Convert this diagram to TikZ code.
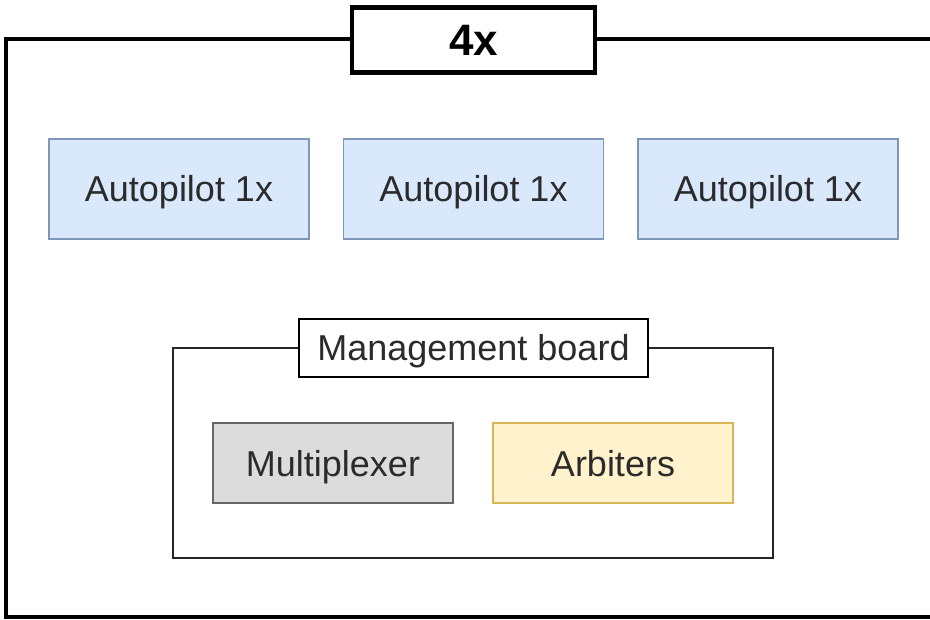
\documentclass[tikz,border=0pt]{standalone}
\usepackage{fontspec}
\setmainfont{Liberation Sans}
\definecolor{apfill}{HTML}{DAE8FC}
\definecolor{apline}{HTML}{7F97BA}
\definecolor{muxfill}{HTML}{DCDCDC}
\definecolor{muxline}{HTML}{666666}
\definecolor{arbfill}{HTML}{FFF2CC}
\definecolor{arbline}{HTML}{D6B656}
\definecolor{txt}{HTML}{2B2B2B}
\tikzset{
  boxtext/.style={font=\fontsize{36}{40}\selectfont, text=txt, inner sep=0pt, text height=26pt, text depth=0pt},
  apbox/.style={boxtext, draw=apline, fill=apfill, line width=1.5pt, minimum width=260pt, minimum height=100pt},
  muxbox/.style={boxtext, draw=muxline, fill=muxfill, line width=1.5pt, minimum width=240pt, minimum height=80pt},
  arbbox/.style={boxtext, draw=arbline, fill=arbfill, line width=1.5pt, minimum width=240pt, minimum height=80pt},
  grouplabel/.style={boxtext, draw=black, fill=white, line width=2pt, minimum width=349pt, minimum height=58pt},
  toplabel/.style={draw=black, fill=white, line width=4.5pt, inner sep=0pt, text height=32pt, text depth=0pt, minimum width=243pt, minimum height=65pt, font=\fontsize{44}{50}\selectfont\bfseries}
}
\begin{document}
\begin{tikzpicture}[x=1pt,y=-1pt]
\useasboundingbox (0,0) rectangle (930,620);
\clip (0,0) rectangle (930,620);
\fill[white] (0,0) rectangle (930,620);
% outer frame
\draw[line width=4.5pt] (6,39) rectangle (945,617);
\node[toplabel] (four) at (473.5,40) {4x};
% autopilots
\node[apbox] (ap1) at (179,189) {Autopilot 1x};
\node[apbox] (ap2) at (473.5,189) {Autopilot 1x};
\node[apbox] (ap3) at (768,189) {Autopilot 1x};
% management board
\draw[line width=2pt, draw=black!85] (173,348) rectangle (773,558);
\node[grouplabel] (mb) at (473.5,348) {Management board};
\node[muxbox] (mux) at (333,463) {Multiplexer};
\node[arbbox] (arb) at (613,463) {Arbiters};
\end{tikzpicture}
\end{document}
